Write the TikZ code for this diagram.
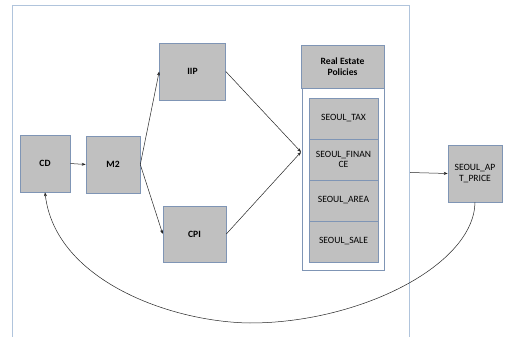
\documentclass[tikz,border=0pt]{standalone}
\usepackage{fontspec}
\setmainfont{Carlito}
\usetikzlibrary{arrows.meta}
\definecolor{boxfill}{HTML}{C0C0C0}
\definecolor{boxline}{HTML}{7F95B5}
\definecolor{frameline}{HTML}{B0C4DC}
\begin{document}
\begin{tikzpicture}[x=1pt,y=-1pt,
  gbox/.style={draw=boxline,fill=boxfill,line width=0.6pt,inner sep=1pt,align=center,font=\fontsize{9.6}{10.5}\selectfont},
  bbox/.style={gbox,font=\fontsize{9.6}{10.5}\selectfont\bfseries},
  conn/.style={draw=black!85,line width=0.5pt,-{Stealth[length=4pt,width=3pt]}}]
\useasboundingbox (0,0) rectangle (507,337);
\fill[white] (0,0) rectangle (507,337);
% frame
\draw[frameline,line width=1pt] (12,337) -- (12,6) -- (409,6) -- (409,337);
% nodes
\node[bbox,minimum width=50pt,minimum height=57pt] (cd) at (45,163.5) {CD};
\node[bbox,minimum width=54pt,minimum height=57pt] (m2) at (113,164.5) {M2};
\node[bbox,minimum width=66pt,minimum height=57pt] (iip) at (192.5,71.5) {IIP};
\node[bbox,minimum width=63pt,minimum height=56pt] (cpi) at (194.5,234) {CPI};
\node[draw=boxline,fill=white,line width=0.6pt,minimum width=82pt,minimum height=182pt] (cont) at (343,179) {};
\node[bbox,minimum width=83pt,minimum height=43pt] (hdr) at (342.5,66.5) {Real Estate\\Policies};
\node[gbox,minimum width=69pt,minimum height=41pt] (tax) at (343.5,118.5) {SEOUL\_TAX};
\node[gbox,minimum width=69pt,minimum height=41pt] (fin) at (343.5,159.5) {SEOUL\_FINAN\\CE};
\node[gbox,minimum width=69pt,minimum height=41pt] (area) at (343.5,200.5) {SEOUL\_AREA};
\node[gbox,minimum width=69pt,minimum height=41pt] (sale) at (343.5,241.5) {SEOUL\_SALE};
\node[gbox,minimum width=54pt,minimum height=57pt] (apt) at (475,173.5) {SEOUL\_AP\\T\_PRICE};
\coordinate (pin) at (301,152);
\coordinate (fr) at (410,172.5);
% connectors
\draw[conn] (cd.east) -- (m2.west);
\draw[conn] (m2.east) -- (iip.west);
\draw[conn] (m2.east) -- (cpi.west);
\draw[conn] (iip.east) -- (pin);
\draw[conn] (cpi.east) -- (pin);
\draw[conn] (fr) -- (apt.west);
\draw[conn] (apt.south) .. controls (474,265) and (360,323) .. (250,323)
  .. controls (170,322) and (55,280) .. (cd.south);
\end{tikzpicture}
\end{document}
